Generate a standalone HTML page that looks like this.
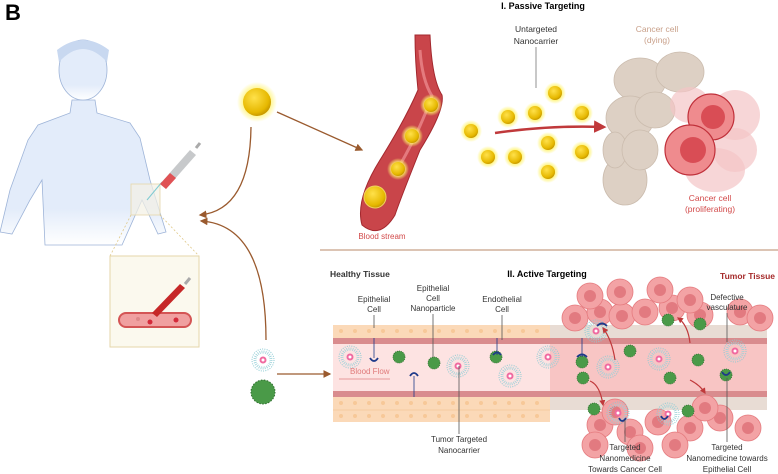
<!DOCTYPE html>
<html><head><meta charset="utf-8"><style>
html,body{margin:0;padding:0;background:#fff}
svg{display:block}
text{font-family:"Liberation Sans",Arial,sans-serif}
</style></head><body>
<svg width="778" height="474" viewBox="0 0 778 474" xmlns="http://www.w3.org/2000/svg">
<defs>
<radialGradient id="gold" cx="40%" cy="35%" r="65%"><stop offset="0" stop-color="#ffe14a"/><stop offset="0.8" stop-color="#e6b800"/><stop offset="1" stop-color="#c99a00"/></radialGradient>
<radialGradient id="glow"><stop offset="0.6" stop-color="#fff36b" stop-opacity="0.9"/><stop offset="1" stop-color="#fff36b" stop-opacity="0"/></radialGradient>
<linearGradient id="fade" x1="0" y1="0" x2="0" y2="1"><stop offset="0.75" stop-color="#e3ecfa"/><stop offset="1" stop-color="#fff"/></linearGradient>
<marker id="ab" markerWidth="6" markerHeight="6" refX="5" refY="3" orient="auto"><path d="M0,0 L6,3 L0,6z" fill="#9a5a2e"/></marker>
<marker id="ar" markerWidth="5" markerHeight="5" refX="4" refY="2.5" orient="auto"><path d="M0,0 L5,2.5 L0,5z" fill="#c0393b"/></marker>
<g id="dot"><circle r="11" fill="url(#glow)"/><circle r="7" fill="url(#gold)"/></g>
<g id="mic"><circle r="11" fill="none" stroke="#8ccbd3" stroke-width="1" stroke-dasharray="1 1.3"/><circle r="8" fill="none" stroke="#9fd3da" stroke-width="3" stroke-dasharray="0.8 1.2"/><circle r="3.5" fill="#f06aa0"/><circle r="1.5" fill="#fff"/></g>
<g id="grn"><circle r="6" fill="#4a9a48"/><circle r="6" fill="none" stroke="#2e6e2e" stroke-width="0.8" stroke-dasharray="1 1"/></g>
<g id="tc"><circle r="13" fill="#f3a3a5" stroke="#e57b7f" stroke-width="0.8"/><circle r="6" fill="#e27a80"/></g>
</defs>

<text x="5" y="20" font-size="22" font-weight="bold">B</text>

<!-- person -->
<g fill="url(#fade)" stroke="#9eb4d8" stroke-width="0.8">
<path d="M0,232 L10,190 L28,140 L38,125 L70,113 L72,100 L95,100 L97,113 L130,123 L140,138 L150,180 L166,232 L158,234 L142,200 L122,245 L45,245 L42,180 L30,200 L12,234 Z"/>
<ellipse cx="83" cy="70" rx="24" ry="30"/>
</g>
<path d="M59,62 Q83,36 107,62 L109,50 Q83,30 57,50 Z" fill="#c8d8f0"/>
<rect x="131" y="184" width="29" height="31" fill="#f3f1e4" fill-opacity="0.7" stroke="#e5d6aa" stroke-width="0.8"/>
<!-- syringe -->
<line x1="147" y1="200" x2="162" y2="182" stroke="#7fcbd2" stroke-width="1"/>
<path d="M160,184 L190,150 L196,155 L166,189 Z" fill="#c7c9cb"/>
<path d="M160,184 L170,173 L176,178 L166,189 Z" fill="#e05255"/>
<line x1="196" y1="148" x2="200" y2="143" stroke="#aaa" stroke-width="3"/>
<!-- inset -->
<path d="M131,215 L110,256 M160,215 L199,256" stroke="#e0c98a" stroke-dasharray="2 2" stroke-width="0.8" fill="none"/>
<rect x="110" y="256" width="89" height="91" fill="#fbf9ee" stroke="#e5d6aa" stroke-width="1"/>
<rect x="119" y="313" width="72" height="14" rx="7" fill="#f0a0a0" stroke="#d45555" stroke-width="2"/>
<circle cx="150" cy="322" r="2.5" fill="#d42a3a"/><circle cx="176" cy="320" r="2.5" fill="#d42a3a"/><circle cx="138" cy="319" r="2" fill="#d88"/>
<path d="M152,313 L180,284 L185,288 L157,317 Z" fill="#c62828"/>
<line x1="185" y1="284" x2="190" y2="278" stroke="#aaa" stroke-width="3"/>

<!-- particles left -->
<circle cx="257" cy="102" r="20" fill="url(#glow)"/><circle cx="257" cy="102" r="14" fill="url(#gold)"/>
<use href="#mic" x="263" y="360"/>
<circle cx="263" cy="392" r="12" fill="#4a9a48"/><circle cx="263" cy="392" r="12" fill="none" stroke="#2e6e2e" stroke-dasharray="1.5 1.5"/>

<!-- brown arrows -->
<g stroke="#9a5a2e" stroke-width="1.3" fill="none" marker-end="url(#ab)">
<path d="M277,112 L362,150"/>
<path d="M251,127 Q250,210 200,215"/>
<path d="M266,340 Q266,225 201,221"/>
<path d="M277,374 L330,374"/>
</g>

<!-- blood vessel -->
<path d="M415,35 L430,35 Q432,80 442,95 Q445,110 420,150 Q400,200 395,215 Q380,240 362,225 Q355,200 380,160 Q405,120 418,90 Q415,60 415,35 Z" fill="#c9454a" stroke="#a3282e" stroke-width="1"/>
<path d="M420,50 Q422,80 432,96 Q420,130 400,165" fill="none" stroke="#e47a7e" stroke-width="3"/>
<use href="#dot" x="431" y="105"/>
<use href="#dot" x="412" y="136"/>
<use href="#dot" x="398" y="169"/>
<circle cx="375" cy="197" r="11" fill="url(#gold)" stroke="#f0d060"/>
<text x="382" y="239" font-size="8" fill="#d24a4a" text-anchor="middle">Blood stream</text>

<!-- passive -->
<text x="543" y="9" font-size="9" font-weight="bold" text-anchor="middle">I. Passive Targeting</text>
<text x="536" y="32" font-size="8.5" fill="#333" text-anchor="middle">Untargeted</text>
<text x="536" y="44" font-size="8.5" fill="#333" text-anchor="middle">Nanocarrier</text>
<line x1="536" y1="47" x2="536" y2="88" stroke="#777" stroke-width="0.8"/>
<use href="#dot" x="471" y="131"/><use href="#dot" x="508" y="117"/><use href="#dot" x="535" y="113"/><use href="#dot" x="555" y="93"/><use href="#dot" x="582" y="113"/><use href="#dot" x="488" y="157"/><use href="#dot" x="515" y="157"/><use href="#dot" x="548" y="143"/><use href="#dot" x="582" y="152"/><use href="#dot" x="548" y="172"/>
<path d="M495,133 Q550,125 604,127" stroke="#c0393b" stroke-width="2.5" fill="none" marker-end="url(#ar)"/>
<!-- cancer cells -->
<g fill="#ddd0c4" stroke="#cbbcae" stroke-width="0.8">
<ellipse cx="640" cy="80" rx="26" ry="22"/><ellipse cx="680" cy="72" rx="24" ry="20"/><ellipse cx="630" cy="118" rx="24" ry="22"/>
<ellipse cx="625" cy="180" rx="22" ry="25"/><ellipse cx="655" cy="110" rx="20" ry="18"/><ellipse cx="615" cy="150" rx="12" ry="18"/><ellipse cx="640" cy="150" rx="18" ry="20"/>
</g>
<g fill="#f3c4c6" fill-opacity="0.7">
<ellipse cx="735" cy="115" rx="25" ry="25"/><ellipse cx="690" cy="105" rx="20" ry="18"/><ellipse cx="715" cy="170" rx="30" ry="22"/><ellipse cx="735" cy="150" rx="22" ry="22"/>
</g>
<circle cx="711" cy="117" r="23" fill="#ef8b8e" stroke="#c0303a" stroke-width="1.2"/><circle cx="713" cy="117" r="12" fill="#d94d55"/>
<circle cx="690" cy="150" r="25" fill="#ef8b8e" stroke="#c0303a" stroke-width="1.2"/><circle cx="693" cy="150" r="13" fill="#d94d55"/>
<text x="657" y="32" font-size="8.5" fill="#c9a08a" text-anchor="middle">Cancer cell</text>
<text x="657" y="43" font-size="8.5" fill="#c9a08a" text-anchor="middle">(dying)</text>
<text x="710" y="201" font-size="8.5" fill="#d24a4a" text-anchor="middle">Cancer cell</text>
<text x="710" y="212" font-size="8.5" fill="#d24a4a" text-anchor="middle">(proliferating)</text>

<line x1="320" y1="250" x2="778" y2="250" stroke="#b98a6a" stroke-width="1"/>

<!-- active -->
<text x="330" y="277" font-size="8.5" font-weight="bold" fill="#333">Healthy Tissue</text>
<text x="547" y="277" font-size="9" font-weight="bold" text-anchor="middle">II. Active Targeting</text>
<text x="775" y="279" font-size="8.5" font-weight="bold" fill="#a52a2a" text-anchor="end">Tumor Tissue</text>

<!-- tissue band -->
<rect x="333" y="325" width="217" height="13" fill="#fbd9b8"/>
<rect x="333" y="397" width="217" height="25" fill="#fbd9b8"/>
<rect x="550" y="325" width="217" height="13" fill="#e8dcd4"/>
<rect x="550" y="397" width="217" height="13" fill="#e8dcd4"/>
<rect x="333" y="338" width="434" height="6" fill="#d98c8e"/>
<rect x="333" y="391" width="434" height="6" fill="#d98c8e"/>
<rect x="333" y="344" width="217" height="47" fill="#fde3e2"/>
<rect x="550" y="344" width="217" height="47" fill="#f8c5c4"/>
<g fill="#f7c898" id="row"><circle cx="341" cy="331" r="2"/><circle cx="355" cy="331" r="2"/><circle cx="369" cy="331" r="2"/><circle cx="383" cy="331" r="2"/><circle cx="397" cy="331" r="2"/><circle cx="411" cy="331" r="2"/><circle cx="425" cy="331" r="2"/><circle cx="439" cy="331" r="2"/><circle cx="453" cy="331" r="2"/><circle cx="467" cy="331" r="2"/><circle cx="481" cy="331" r="2"/><circle cx="495" cy="331" r="2"/><circle cx="509" cy="331" r="2"/><circle cx="523" cy="331" r="2"/><circle cx="537" cy="331" r="2"/></g>
<use href="#row" y="72"/><use href="#row" y="85"/>
<line x1="333" y1="410" x2="550" y2="410" stroke="#f4c49a" stroke-width="0.8"/>
<!-- tumor cells -->
<use href="#tc" x="575" y="318"/><use href="#tc" x="600" y="312"/><use href="#tc" x="622" y="316"/><use href="#tc" x="645" y="312"/><use href="#tc" x="672" y="308"/><use href="#tc" x="700" y="315"/><use href="#tc" x="740" y="312"/><use href="#tc" x="590" y="296"/><use href="#tc" x="620" y="292"/><use href="#tc" x="660" y="290"/><use href="#tc" x="690" y="300"/><use href="#tc" x="760" y="318"/>
<use href="#tc" x="600" y="425"/><use href="#tc" x="630" y="432"/><use href="#tc" x="658" y="422"/><use href="#tc" x="690" y="428"/><use href="#tc" x="720" y="418"/><use href="#tc" x="748" y="428"/><use href="#tc" x="615" y="412"/><use href="#tc" x="705" y="408"/><use href="#tc" x="640" y="448"/><use href="#tc" x="675" y="445"/><use href="#tc" x="595" y="445"/>
<!-- particles in vessel -->
<use href="#mic" x="350" y="357"/><use href="#mic" x="458" y="366"/><use href="#mic" x="510" y="376"/><use href="#mic" x="548" y="357"/><use href="#mic" x="608" y="367"/><use href="#mic" x="659" y="359"/><use href="#mic" x="735" y="351"/><use href="#mic" x="596" y="331"/><use href="#mic" x="618" y="413"/><use href="#mic" x="668" y="414"/>
<use href="#grn" x="399" y="357"/><use href="#grn" x="434" y="363"/><use href="#grn" x="496" y="357"/><use href="#grn" x="582" y="362"/><use href="#grn" x="583" y="378"/><use href="#grn" x="630" y="351"/><use href="#grn" x="698" y="360"/><use href="#grn" x="670" y="378"/><use href="#grn" x="726" y="375"/><use href="#grn" x="668" y="320"/><use href="#grn" x="594" y="409"/><use href="#grn" x="688" y="411"/><use href="#grn" x="700" y="324"/>
<g stroke="#1e3a8a" stroke-width="1.8" fill="none"><path d="M370,358 Q374,364 378,358"/><path d="M410,376 Q414,370 418,376"/><path d="M493,355 Q497,350 501,355"/><path d="M577,357 Q582,352 587,357"/><path d="M722,372 Q726,378 730,372"/><path d="M619,418 Q622,424 626,418"/><path d="M661,416 Q664,422 668,416"/><path d="M597,326 Q602,321 607,326"/></g>
<g stroke="#1e3a8a" stroke-width="0.8"><line x1="374" y1="338" x2="374" y2="358"/><line x1="414" y1="376" x2="414" y2="397"/><line x1="497" y1="338" x2="497" y2="355"/><line x1="582" y1="338" x2="582" y2="357"/></g>
<g stroke="#c0393b" stroke-width="1.2" fill="none" marker-end="url(#ar)"><path d="M615,360 Q612,340 603,328"/><path d="M590,381 Q600,385 603,405"/><path d="M690,380 Q700,385 705,393"/><path d="M690,343 Q688,325 678,318"/></g>
<text x="350" y="374" font-size="8" fill="#e07a7a">Blood Flow</text>
<line x1="339" y1="379" x2="390" y2="379" stroke="#e89a9a" stroke-width="1"/>
<!-- labels -->
<g font-size="8" fill="#333" text-anchor="middle">
<text x="374" y="302">Epithelial</text><text x="374" y="312">Cell</text>
<text x="433" y="291">Epithelial</text><text x="433" y="301">Cell</text><text x="433" y="311">Nanoparticle</text>
<text x="502" y="302">Endothelial</text><text x="502" y="312">Cell</text>
<text x="459" y="442">Tumor Targeted</text><text x="459" y="453">Nanocarrier</text>
<text x="625" y="450">Targeted</text><text x="625" y="461">Nanomedicine</text><text x="625" y="472">Towards Cancer Cell</text>
<text x="727" y="300">Defective</text><text x="727" y="310">vasculature</text>
<text x="727" y="450">Targeted</text><text x="727" y="461">Nanomedicine towards</text><text x="727" y="472">Epithelial Cell</text>
</g>
<g stroke="#555" stroke-width="0.8">
<line x1="374" y1="315" x2="374" y2="328"/><line x1="433" y1="314" x2="433" y2="357"/><line x1="502" y1="315" x2="502" y2="340"/><line x1="459" y1="366" x2="459" y2="434"/><line x1="625" y1="420" x2="625" y2="442"/><line x1="727" y1="313" x2="727" y2="342"/><line x1="727" y1="378" x2="727" y2="442"/>
</g>
</svg>
</body></html>
